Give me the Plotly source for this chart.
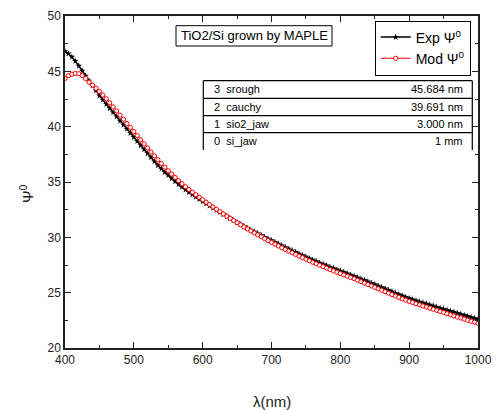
import plotly.graph_objects as go

# ---- data ----
wavelength = list(range(400, 1001, 5))

exp_psi = [
    46.80, 46.60, 46.30, 45.93, 45.50, 45.05, 44.60, 44.15, 43.70, 43.25,
    42.80, 42.42, 42.04, 41.66, 41.28, 40.91, 40.53, 40.16, 39.79, 39.42,
    39.05, 38.68, 38.31, 37.95, 37.58, 37.22, 36.86, 36.50, 36.20, 35.90,
    35.61, 35.33, 35.06, 34.80, 34.55, 34.31, 34.08, 33.86, 33.65, 33.45,
    33.25, 33.05, 32.85, 32.65, 32.46, 32.27, 32.08, 31.89, 31.71, 31.53,
    31.35, 31.17, 31.00, 30.83, 30.66, 30.50, 30.34, 30.18, 30.02, 29.87,
    29.72, 29.57, 29.41, 29.26, 29.10, 28.95, 28.80, 28.66, 28.51, 28.37,
    28.23, 28.09, 27.96, 27.83, 27.70, 27.57, 27.45, 27.32, 27.20, 27.08,
    26.97, 26.85, 26.73, 26.61, 26.49, 26.37, 26.25, 26.13, 26.00, 25.87,
    25.75, 25.62, 25.49, 25.36, 25.23, 25.10, 24.97, 24.84, 24.71, 24.60,
    24.49, 24.38, 24.28, 24.18, 24.08, 23.99, 23.89, 23.80, 23.70, 23.61,
    23.52, 23.43, 23.34, 23.25, 23.16, 23.07, 22.97, 22.87, 22.78, 22.69,
    22.60,
]

mod_psi = [
    44.36, 44.60, 44.74, 44.81, 44.79, 44.62, 44.35, 44.02, 43.75, 43.47,
    43.18, 42.86, 42.52, 42.16, 41.79, 41.42, 41.04, 40.67, 40.29, 39.92,
    39.55, 39.18, 38.81, 38.44, 38.07, 37.71, 37.36, 37.01, 36.67, 36.34,
    36.02, 35.71, 35.41, 35.12, 34.84, 34.57, 34.32, 34.08, 33.85, 33.62,
    33.40, 33.18, 32.96, 32.74, 32.53, 32.32, 32.11, 31.91, 31.71, 31.51,
    31.32, 31.13, 30.94, 30.76, 30.58, 30.40, 30.22, 30.05, 29.88, 29.71,
    29.54, 29.38, 29.22, 29.06, 28.90, 28.75, 28.60, 28.45, 28.30, 28.16,
    28.02, 27.88, 27.74, 27.61, 27.48, 27.35, 27.22, 27.09, 26.97, 26.85,
    26.73, 26.61, 26.49, 26.37, 26.25, 26.12, 26.00, 25.87, 25.74, 25.61,
    25.48, 25.35, 25.22, 25.09, 24.96, 24.83, 24.70, 24.57, 24.44, 24.33,
    24.22, 24.11, 24.00, 23.90, 23.80, 23.70, 23.60, 23.50, 23.40, 23.30,
    23.20, 23.10, 23.00, 22.90, 22.80, 22.71, 22.61, 22.51, 22.42, 22.33,
    22.23,
]

layer_labels = ["3  srough", "2  cauchy", "1  sio2_jaw", "0  si_jaw"]
layer_values = ["45.684 nm", "39.691 nm", "3.000 nm", "1 mm"]

title_text = "TiO2/Si grown by MAPLE"
x_ticks = [400, 500, 600, 700, 800, 900, 1000]
y_ticks = [20, 25, 30, 35, 40, 45, 50]

# ---- layout geometry (pixels) ----
W, H = 496, 410
L, R, T, B = 65, 478, 16, 348
FONT = "Liberation Sans, Arial, sans-serif"
NARROW = "Liberation Sans Narrow, Liberation Sans, Arial, sans-serif"
AX = "#222222"


def px(x):
    return (x - L) / (R - L)


def py(y):
    return (B - y) / (B - T)


fig = go.Figure()
fig.add_trace(go.Scatter(
    x=wavelength, y=exp_psi, mode="lines+markers",
    name="Exp \u03a8<sup>0</sup>",
    line=dict(color="black", width=1.5),
    marker=dict(symbol="star", size=5, color="black"),
))
fig.add_trace(go.Scatter(
    x=wavelength, y=mod_psi, mode="lines+markers",
    name="Mod \u03a8<sup>0</sup>",
    line=dict(color="red", width=1),
    marker=dict(symbol="circle", size=4.2, color="white",
                line=dict(color="red", width=1)),
))

axis_common = dict(
    showline=True, linecolor=AX, linewidth=1.5, mirror="allticks",
    ticks="inside", ticklen=6, tickwidth=1.2, tickcolor=AX,
    showgrid=False, zeroline=False, automargin=False,
    tickfont=dict(family=FONT, size=12, color=AX),
)

fig.update_xaxes(range=[400, 1000], tickvals=x_ticks,
                 minor=dict(dtick=50, ticks="inside", ticklen=3,
                            tickwidth=1.2, tickcolor=AX, showgrid=False),
                 **axis_common)
fig.update_yaxes(range=[20, 50], tickvals=y_ticks,
                 minor=dict(dtick=2.5, ticks="inside", ticklen=3,
                            tickwidth=1.2, tickcolor=AX, showgrid=False),
                 **axis_common)

shapes = []
ann = []

# title box
shapes.append(dict(type="rect", xref="paper", yref="paper", layer="below",
                   x0=px(176), x1=px(332), y0=py(46), y1=py(25.7),
                   line=dict(color="black", width=1), fillcolor="white"))
ann.append(dict(x=px(254), y=py(36), xref="paper", yref="paper",
                xanchor="center", yanchor="middle",
                text=title_text, showarrow=False,
                font=dict(family=FONT, size=13, color="black")))

# layer table
tx0, tx1 = px(203.3), px(472.3)
row_lines = [80.7, 98.3, 115.7, 132.7]
for yl in row_lines:
    shapes.append(dict(type="line", xref="paper", yref="paper",
                       x0=tx0, x1=tx1, y0=py(yl), y1=py(yl),
                       line=dict(color="black", width=1.2)))
for xv in (tx0, tx1):
    shapes.append(dict(type="line", xref="paper", yref="paper",
                       x0=xv, x1=xv, y0=py(80.7), y1=py(150),
                       line=dict(color="black", width=1.2)))
row_centers = [89.5, 107.0, 124.2, 141.3]
for lab, val, yc in zip(layer_labels, layer_values, row_centers):
    ann.append(dict(x=px(211.7), y=py(yc), xref="paper", yref="paper",
                    text=lab, showarrow=False, xanchor="left",
                    yanchor="middle",
                    font=dict(family=NARROW, size=11, color="black")))
    ann.append(dict(x=px(465), y=py(yc), xref="paper", yref="paper",
                    text=val, showarrow=False, xanchor="right",
                    yanchor="middle",
                    font=dict(family=NARROW, size=11, color="black")))

# axis titles
ann.append(dict(x=px(271.5), y=py(401.5), xref="paper", yref="paper",
                xanchor="center", yanchor="middle",
                text="\u03bb(nm)", showarrow=False,
                font=dict(family=FONT, size=15, color=AX)))
ann.append(dict(x=px(26), y=py(194), xref="paper", yref="paper",
                xanchor="center", yanchor="middle",
                text="\u03a8<sup>0</sup>", showarrow=False, textangle=-90,
                font=dict(family=FONT, size=15, color=AX)))

fig.update_layout(
    width=W, height=H,
    margin=dict(l=L, r=W - R, t=T, b=H - B, pad=0, autoexpand=False),
    paper_bgcolor="white", plot_bgcolor="white",
    shapes=shapes, annotations=ann,
    showlegend=True,
    legend=dict(x=px(470.7), y=py(20.5), xanchor="right", yanchor="top",
                bgcolor="white", bordercolor="black", borderwidth=1,
                font=dict(family=FONT, size=14, color="black"),
                tracegroupgap=0, itemsizing="trace"),
)

fig.write_html("out.html")
